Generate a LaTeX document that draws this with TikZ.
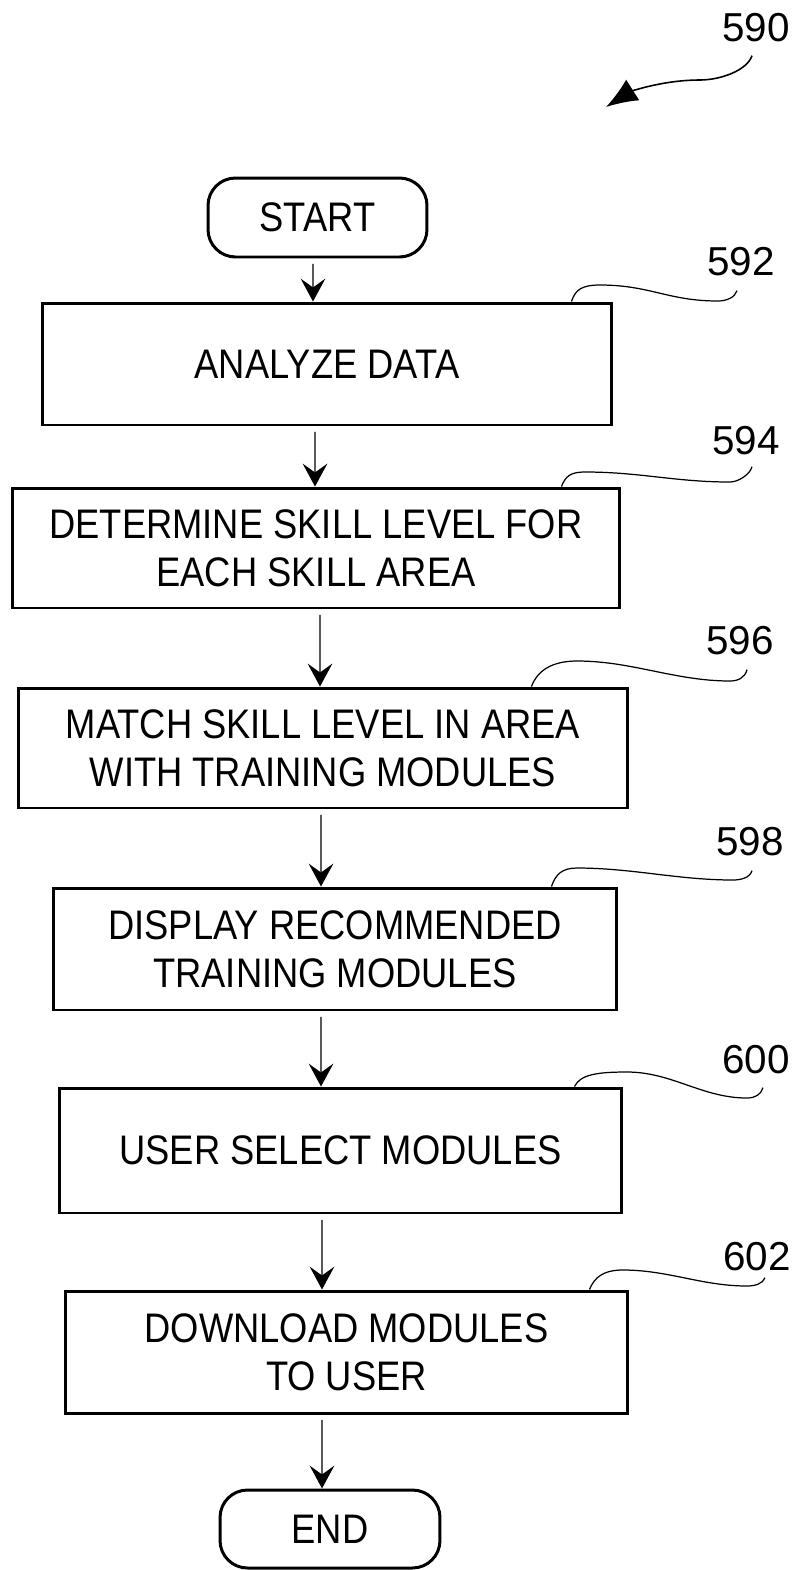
\documentclass[tikz,border=0pt]{standalone}
\usepackage{fontspec}
\newfontfamily\boxfont[FakeStretch=0.88]{Liberation Sans}
\newfontfamily\numfont{Liberation Sans}
\usetikzlibrary{arrows.meta}

\begin{document}
\begin{tikzpicture}[x=0.02cm, y=-0.02cm,
	stepbox/.style={draw, line width=1.7pt, align=center, inner sep=0pt, font=\boxfont\fontsize{23.5}{27.3}\selectfont},
	term/.style={stepbox, rounded corners=0.55cm},
	refnum/.style={inner sep=0pt, font=\numfont\fontsize{23}{27}\selectfont},
	flow/.style={line width=0.75pt, shorten <=3pt, -{Stealth[length=13pt,width=14pt,inset=5pt]}},
	leader/.style={line width=0.7pt},
	bigarrow/.style={line width=0.9pt, -{Latex[length=18pt,width=14pt]}}]
				\useasboundingbox (0,0) rectangle (797,1570);

				\node[term, minimum width=4.38cm, minimum height=1.58cm] (start) at (317.5,217.5) {START};
				\node[stepbox, minimum width=11.4cm, minimum height=2.44cm] (b592) at (327,364) {ANALYZE DATA};
				\node[stepbox, minimum width=12.16cm, minimum height=2.4cm] (b594) at (316,548) {DETERMINE SKILL LEVEL FOR\\EACH SKILL AREA};
				\node[stepbox, minimum width=12.2cm, minimum height=2.4cm] (b596) at (323,748) {MATCH SKILL LEVEL IN AREA\\WITH TRAINING MODULES};
				\node[stepbox, minimum width=11.28cm, minimum height=2.44cm] (b598) at (335,949) {DISPLAY RECOMMENDED\\TRAINING MODULES};
				\node[stepbox, minimum width=11.26cm, minimum height=2.5cm] (b600) at (340.5,1150.5) {USER SELECT MODULES};
				\node[stepbox, minimum width=11.26cm, minimum height=2.44cm] (b602) at (346.5,1352) {DOWNLOAD MODULES\\TO USER};
				\node[term, minimum width=4.4cm, minimum height=1.56cm] (end) at (330,1529) {END};

				\node[refnum] (l590) at (756,28) {590};
				\node[refnum] (l592) at (741,262) {592};
				\node[refnum] (l594) at (746,441) {594};
				\node[refnum] (l596) at (740,641) {596};
				\node[refnum] (l598) at (750,842) {598};
				\node[refnum] (l600) at (756,1060) {600};
				\node[refnum] (l602) at (757,1257) {602};
				\coordinate (a590) at (606,107);

				\draw[flow] ([xshift=-0.09cm]start.south) -- ([xshift=-0.28cm]b592.north);
				\draw[flow] ([xshift=-0.24cm]b592.south) -- ([xshift=-0.02cm]b594.north);
				\draw[flow] ([xshift=0.08cm]b594.south) -- ([xshift=-0.06cm]b596.north);
				\draw[flow] ([xshift=-0.04cm]b596.south) -- ([xshift=-0.28cm]b598.north);
				\draw[flow] ([xshift=-0.28cm]b598.south) -- ([xshift=-0.39cm]b600.north);
				\draw[flow] ([xshift=-0.37cm]b600.south) -- ([xshift=-0.49cm]b602.north);
				\draw[flow] ([xshift=-0.49cm]b602.south) -- ([xshift=-0.16cm]end.north);

				% reference leaders
				\draw[bigarrow] (l590.south) ++(-4,13) .. controls +(-5,15) and +(20,0) .. (700,80) .. controls +(-40,0) and +(22,-14) .. (a590);
				\draw[leader] (l592.south) ++(-4,14) .. controls +(-2,7) and +(8,0) .. (718,301) .. controls +(-50,0) and +(50,0) .. (600,285) .. controls +(-18,0) and +(4,-12) .. ([xshift=-0.84cm]b592.north east);
				\draw[leader] (l594.south) ++(6,11) .. controls +(-2,8) and +(8,0) .. (730,482) .. controls +(-55,0) and +(55,0) .. (585,472) .. controls +(-15,0) and +(4,-10) .. ([xshift=-1.2cm]b594.north east);
				\draw[leader] (l596.south) ++(7,14) .. controls +(-2,8) and +(8,0) .. (730,681) .. controls +(-55,0) and +(55,0) .. (577,661) .. controls +(-25,0) and +(6,-16) .. ([xshift=-1.96cm]b596.north east);
				\draw[leader] (l598.south) ++(2,14) .. controls +(-2,7) and +(8,0) .. (733,880) .. controls +(-55,0) and +(55,0) .. (577,868) .. controls +(-15,0) and +(4,-12) .. ([xshift=-1.34cm]b598.north east);
				\draw[leader] (l600.south) ++(7,13) .. controls +(-2,7) and +(8,0) .. (747,1098) .. controls +(-45,0) and +(45,0) .. (627,1072) .. controls +(-30,0) and +(6,-12) .. ([xshift=-0.98cm]b600.north east);
				\draw[leader] (l602.south) ++(8,6) .. controls +(-2,6) and +(8,0) .. (747,1286) .. controls +(-45,0) and +(45,0) .. (623,1270) .. controls +(-20,0) and +(5,-12) .. ([xshift=-0.8cm]b602.north east);
			\end{tikzpicture}
\end{document}
